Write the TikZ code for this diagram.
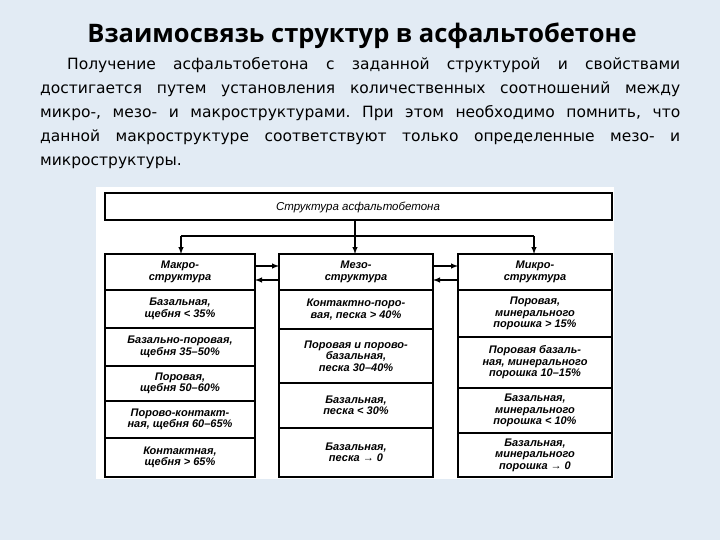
\documentclass[tikz,border=0pt]{standalone}
\usepackage{fontspec}
\setmainfont{DejaVu Sans}
\newfontfamily\tfont{Open Sans}
\newfontfamily\dfont{Liberation Sans}
\definecolor{bgc}{HTML}{E2EBF4}
\begin{document}
\frenchspacing
\begin{tikzpicture}[x=1pt,y=-1pt,
  bx/.style={draw=black,line width=1.4pt},
  tx/.style={font=\dfont\itshape\bfseries\fontsize{11}{11.5}\selectfont,align=center,inner sep=0pt},
  ar/.style={line width=1.4pt,-latex}]
\fill[bgc] (0,0) rectangle (720,540);
\useasboundingbox (0,0) rectangle (720,540);
\fill[white] (96,187) rectangle (614,479);
\node[font=\tfont\bfseries\fontsize{25.5}{28}\selectfont] (title) at (362,36) {Взаимосвязь структур в асфальтобетоне};
\node[anchor=north west,inner sep=0pt,text width=640pt,font=\fontsize{15.5}{24}\selectfont,align=justify] (par) at (40,57)
 {\hspace*{27pt}Получение асфальтобетона с заданной структурой и свойствами\linebreak достигается путем установления количественных соотношений между\linebreak микро-, мезо- и макроструктурами. При этом необходимо помнить, что\linebreak данной макроструктуре соответствуют только определенные мезо- и\linebreak микроструктуры.};
% top
\draw[bx] (105,193) rectangle (612,220);
\node[tx,font=\dfont\itshape\fontsize{11.5}{12}\selectfont] (top) at (358,207) {Структура асфальтобетона};
\coordinate (tb) at (355,220);
\coordinate (hb) at (355,236);
\coordinate (hl) at (181,236);
\coordinate (hr) at (534,236);
\draw[line width=1.4pt] (tb) -- (hb);
\draw[line width=1.4pt] (hl) -- (hr);
\coordinate (al) at (181,254);
\coordinate (am) at (355,254);
\coordinate (ar2) at (534,254);
\draw[ar] (hl) -- (al);
\draw[ar] (hb) -- (am);
\draw[ar] (hr) -- (ar2);
% columns
\foreach \xa/\xb in {105/255,279/433,458/612}{
  \draw[bx] (\xa,254) rectangle (\xb,477);
  \draw[bx] (\xa,290) -- (\xb,290);}
\foreach \y in {328,366,401,438} \draw[bx] (105,\y) -- (255,\y);
\foreach \y in {329,383,428} \draw[bx] (279,\y) -- (433,\y);
\foreach \y in {337,388,433} \draw[bx] (458,\y) -- (612,\y);
% side arrows
\coordinate (l1) at (255,266); \coordinate (m1) at (279,266);
\coordinate (l2) at (255,280); \coordinate (m2) at (279,280);
\coordinate (m3) at (433,266); \coordinate (r3) at (458,266);
\coordinate (m4) at (433,280); \coordinate (r4) at (458,280);
\draw[ar] (l1) -- (m1); \draw[ar] (m2) -- (l2);
\draw[ar] (m3) -- (r3); \draw[ar] (r4) -- (m4);
% headers
\node[tx] (h1) at (180,272) {Макро-\\структура};
\node[tx] (h2) at (356,272) {Мезо-\\структура};
\node[tx] (h3) at (535,272) {Микро-\\структура};
% left
\node[tx] (a1) at (180,309) {Базальная,\\щебня < 35\%};
\node[tx] (a2) at (180,347) {Базально-поровая,\\щебня 35–50\%};
\node[tx] (a3) at (180,383.5) {Поровая,\\щебня 50–60\%};
\node[tx] (a4) at (180,419.5) {Порово-контакт-\\ная, щебня 60–65\%};
\node[tx] (a5) at (180,457.5) {Контактная,\\щебня > 65\%};
% middle
\node[tx] (b1) at (356,309.5) {Контактно-поро-\\вая, песка > 40\%};
\node[tx] (b2) at (356,356) {Поровая и порово-\\базальная,\\песка 30–40\%};
\node[tx] (b3) at (356,405.5) {Базальная,\\песка < 30\%};
\node[tx] (b4) at (356,452.5) {Базальная,\\песка → 0};
% right
\node[tx] (c1) at (535,313.5) {Поровая,\\минерального\\порошка > 15\%};
\node[tx] (c2) at (535,362.5) {Поровая базаль-\\ная, минерального\\порошка 10–15\%};
\node[tx] (c3) at (535,410.5) {Базальная,\\минерального\\порошка < 10\%};
\node[tx] (c4) at (535,455) {Базальная,\\минерального\\порошка → 0};
\end{tikzpicture}
\end{document}
